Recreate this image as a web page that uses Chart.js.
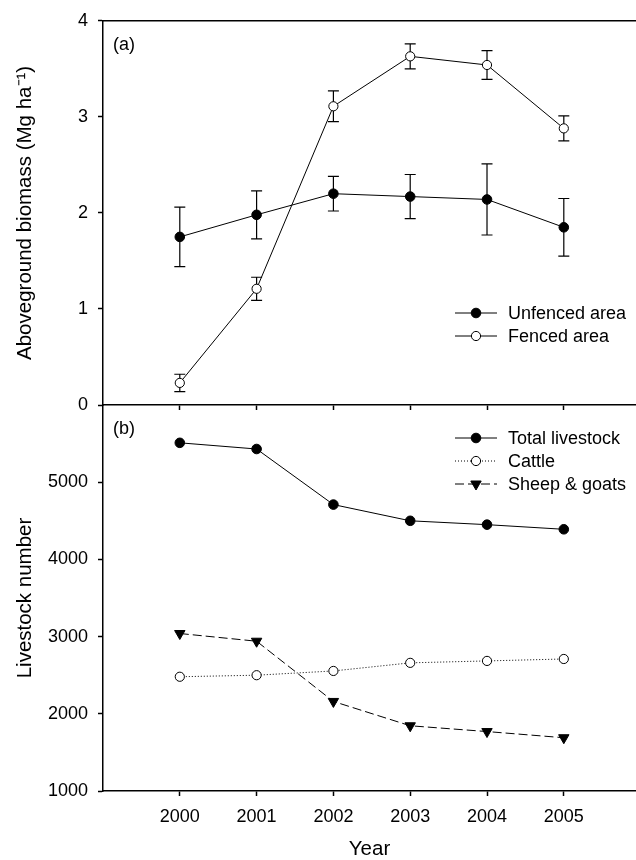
<!DOCTYPE html>
<html><head><meta charset="utf-8">
<script src="https://cdn.jsdelivr.net/npm/chart.js@4/dist/chart.umd.min.js"></script>
<style>
html,body{margin:0;padding:0;background:#fff;overflow:hidden;width:636px;height:860px;}
#wrap{position:relative;width:636px;height:860px;overflow:hidden;}
canvas{position:absolute;left:0;top:0;}
</style></head><body>
<div id="wrap">
<canvas id="cb" width="636" height="860"></canvas>
<canvas id="ca" width="636" height="860"></canvas>
</div>
<script>
// ---- data ----
const years = [2000, 2001, 2002, 2003, 2004, 2005];
const unfencedMean = [1.75, 1.98, 2.20, 2.17, 2.14, 1.85];
const unfencedErr  = [0.31, 0.25, 0.18, 0.23, 0.37, 0.30];
const fencedMean   = [0.23, 1.21, 3.11, 3.63, 3.54, 2.88];
const fencedErr    = [0.09, 0.12, 0.16, 0.13, 0.15, 0.13];
const totalLivestock = [5510, 5430, 4710, 4500, 4450, 4390];
const cattle         = [2480, 2500, 2555, 2660, 2685, 2710];
const sheepGoats     = [3040, 2940, 2160, 1845, 1770, 1690];
const yearTicks = [2000, 2001, 2002, 2003, 2004, 2005];
const biomassTicks = [0, 1, 2, 3, 4];
const livestockTicks = [1000, 2000, 3000, 4000, 5000];

const FAM = '"Liberation Sans", Arial, Helvetica, sans-serif';
const X_MIN = 1999, X_MAX = 2005.94;
const pts = (ys) => years.map((x, i) => ({x: x, y: ys[i]}));

const errorBarPlugin = {
  id: 'errorBars',
  beforeDatasetsDraw(chart) {
    const {ctx, scales: {x, y}} = chart;
    ctx.save();
    ctx.strokeStyle = '#000';
    ctx.lineWidth = 1.2;
    chart.data.datasets.forEach(ds => {
      if (!ds.errors) return;
      ds.data.forEach((p, i) => {
        const px = x.getPixelForValue(p.x);
        const t = y.getPixelForValue(p.y + ds.errors[i]);
        const b = y.getPixelForValue(p.y - ds.errors[i]);
        ctx.beginPath();
        ctx.moveTo(px, t); ctx.lineTo(px, b);
        ctx.moveTo(px - 5.5, t); ctx.lineTo(px + 5.5, t);
        ctx.moveTo(px - 5.5, b); ctx.lineTo(px + 5.5, b);
        ctx.stroke();
      });
    });
    ctx.restore();
  }
};

function decoPlugin(label, legendRows, legendFromBottom, topFrame) {
  return {
    id: 'deco',
    afterDatasetsDraw(chart) {
      const {ctx, chartArea: ca} = chart;
      ctx.save();
      if (topFrame) {
        ctx.strokeStyle = '#000'; ctx.lineWidth = 1.5;
        ctx.beginPath(); ctx.moveTo(ca.left, ca.top); ctx.lineTo(ca.right, ca.top); ctx.stroke();
      }
      ctx.fillStyle = '#000';
      ctx.font = '18px ' + FAM;
      ctx.textBaseline = 'middle';
      ctx.textAlign = 'left';
      ctx.fillText(label, ca.left + 10, ca.top + 24);
      const n = chart.data.datasets.length;
      chart.data.datasets.forEach((ds, i) => {
        const ry = legendFromBottom ? ca.bottom - legendRows - (n - 1 - i) * 23 : ca.top + legendRows + i * 23;
        const x0 = ca.left + 352, x1 = ca.left + 394, cx = ca.left + 373;
        ctx.strokeStyle = '#000';
        ctx.lineWidth = ds.borderWidth;
        ctx.setLineDash(ds.borderDash || []);
        ctx.beginPath(); ctx.moveTo(x0, ry); ctx.lineTo(x1, ry); ctx.stroke();
        ctx.setLineDash([]);
        ctx.fillStyle = ds.pointBackgroundColor;
        ctx.strokeStyle = '#000';
        ctx.lineWidth = ds.pointBorderWidth;
        Chart.helpers.drawPoint(ctx, {pointStyle: ds.pointStyle, rotation: ds.pointRotation || 0,
          radius: ds.pointRadius, borderWidth: ds.pointBorderWidth}, cx, ry);
        ctx.fillStyle = '#000';
        ctx.fillText(ds.label, ca.left + 405, ry + 1);
      });
      ctx.restore();
    }
  };
}

function axisCommon() {
  return {
    grid: {display: true, drawOnChartArea: false, drawTicks: true, tickLength: 5, tickColor: '#000', tickWidth: 1.5},
    border: {display: true, color: '#000', width: 1.5}
  };
}

// ---- Panel (a) ----
new Chart(document.getElementById('ca'), {
  type: 'line',
  data: {
    datasets: [
      {label: 'Unfenced area', data: pts(unfencedMean), errors: unfencedErr,
       borderColor: '#000', borderWidth: 1, pointStyle: 'circle', pointRadius: 4.8,
       pointBackgroundColor: '#000', pointBorderColor: '#000', pointBorderWidth: 1},
      {label: 'Fenced area', data: pts(fencedMean), errors: fencedErr,
       borderColor: '#000', borderWidth: 1, pointStyle: 'circle', pointRadius: 4.6,
       pointBackgroundColor: '#fff', pointBorderColor: '#000', pointBorderWidth: 1}
    ]
  },
  options: {
    responsive: false, animation: false, events: [],
    layout: {autoPadding: false, padding: {top: 19, left: 0, right: 0, bottom: 0}},
    plugins: {legend: {display: false}, tooltip: {enabled: false}},
    scales: {
      x: Object.assign(axisCommon(), {
        type: 'linear', min: X_MIN, max: X_MAX, position: 'bottom',
        afterBuildTicks: s => { s.ticks = yearTicks.map(v => ({value: v})); },
        afterFit: s => { s.height = 455; },
        ticks: {display: false}
      }),
      y: Object.assign(axisCommon(), {
        type: 'linear', min: 0, max: 4,
        afterBuildTicks: s => { s.ticks = biomassTicks.map(v => ({value: v})); },
        afterFit: s => { s.width = 103; },
        ticks: {color: '#000', font: {size: 18, family: FAM}, padding: 10, callback: v => String(v)},
        title: {display: true, text: 'Aboveground biomass (Mg ha\u207B\u00B9)', color: '#000',
                font: {size: 20.5, family: FAM, lineHeight: 1}, padding: {top: 15, bottom: 0}}
      })
    }
  },
  plugins: [errorBarPlugin, decoPlugin('(a)', 69, true, true)]
});

// ---- Panel (b) ----
new Chart(document.getElementById('cb'), {
  type: 'line',
  data: {
    datasets: [
      {label: 'Total livestock', data: pts(totalLivestock),
       borderColor: '#000', borderWidth: 1, pointStyle: 'circle', pointRadius: 4.8,
       pointBackgroundColor: '#000', pointBorderColor: '#000', pointBorderWidth: 1},
      {label: 'Cattle', data: pts(cattle), borderDash: [1, 2],
       borderColor: '#000', borderWidth: 1, pointStyle: 'circle', pointRadius: 4.6,
       pointBackgroundColor: '#fff', pointBorderColor: '#000', pointBorderWidth: 1},
      {label: 'Sheep & goats', data: pts(sheepGoats), borderDash: [9, 4],
       borderColor: '#000', borderWidth: 1, pointStyle: 'triangle', pointRotation: 180, pointRadius: 6,
       pointBackgroundColor: '#000', pointBorderColor: '#000', pointBorderWidth: 1}
    ]
  },
  options: {
    responsive: false, animation: false, events: [],
    layout: {autoPadding: false, padding: {top: 405, left: 0, right: 0, bottom: 0}},
    plugins: {legend: {display: false}, tooltip: {enabled: false}},
    scales: {
      x: Object.assign(axisCommon(), {
        type: 'linear', min: X_MIN, max: X_MAX, position: 'bottom',
        afterBuildTicks: s => { s.ticks = yearTicks.map(v => ({value: v})); },
        afterFit: s => { s.height = 69; },
        ticks: {color: '#000', font: {size: 18, family: FAM}, padding: 10, callback: v => String(v)},
        title: {display: true, text: 'Year', color: '#000',
                font: {size: 20.5, family: FAM, lineHeight: 1}, padding: {top: 0, bottom: 0}}
      }),
      y: Object.assign(axisCommon(), {
        type: 'linear', min: 1000, max: 6000,
        afterBuildTicks: s => { s.ticks = livestockTicks.map(v => ({value: v})); },
        afterFit: s => { s.width = 103; },
        ticks: {color: '#000', font: {size: 18, family: FAM}, padding: 10, callback: v => String(v)},
        title: {display: true, text: 'Livestock number', color: '#000',
                font: {size: 20.5, family: FAM, lineHeight: 1}, padding: {top: 15, bottom: 0}}
      })
    }
  },
  plugins: [decoPlugin('(b)', 33, false, false)]
});
</script>
</body></html>
